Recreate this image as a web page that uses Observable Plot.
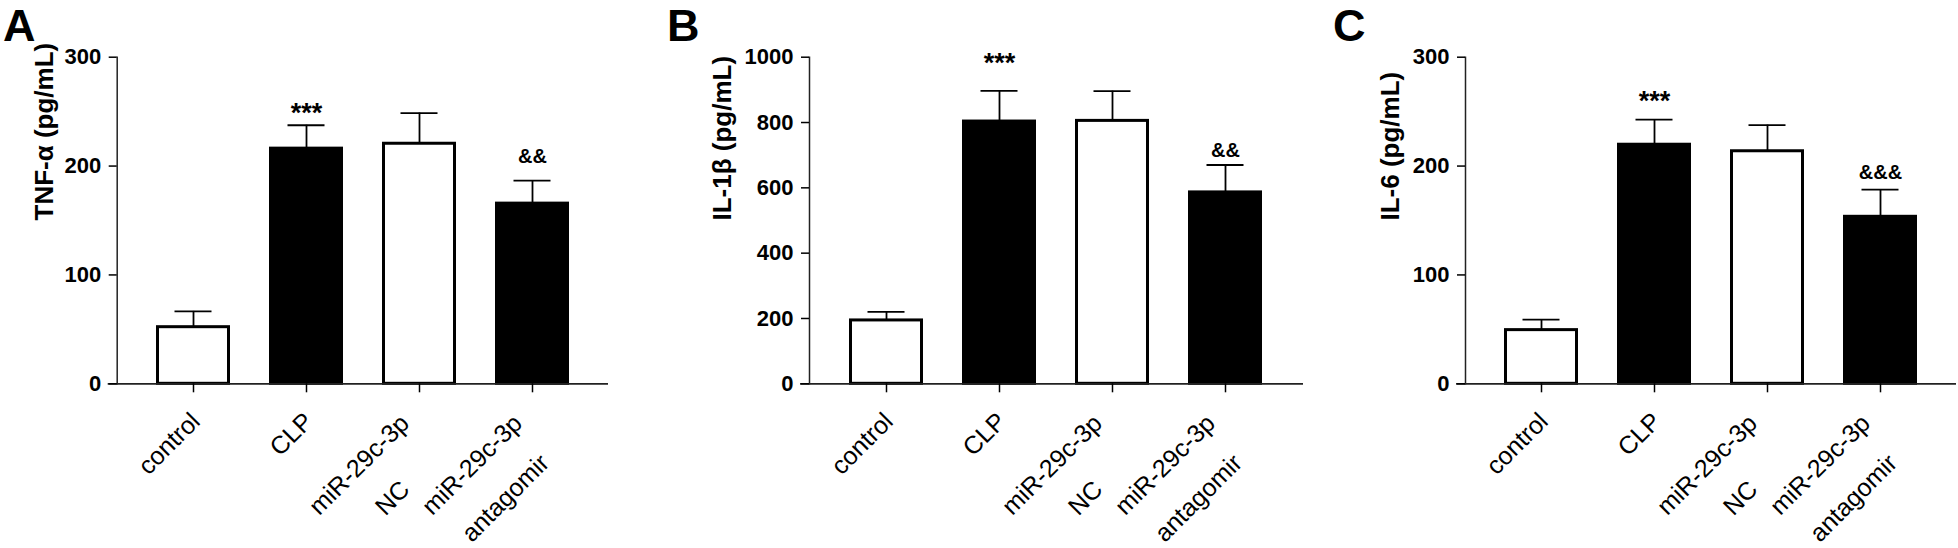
<!DOCTYPE html>
<html><head><meta charset="utf-8">
<script src="https://cdn.jsdelivr.net/npm/d3@7"></script>
<script src="https://cdn.jsdelivr.net/npm/@observablehq/plot@0.6"></script>
<style>
html,body{margin:0;padding:0;background:#fff;}
#root{position:relative;width:1958px;height:548px;overflow:hidden;font-family:"Liberation Sans",Arial,sans-serif;}
.panel{position:absolute;top:0;}
.letter{position:absolute;top:0px;font:bold 45px/52px "Liberation Sans",Arial,sans-serif;color:#000;}
</style></head><body><div id="root"></div>
<script>
// ---- data ----
const categories = ["control", "CLP", "miR-29c-3p\nNC", "miR-29c-3p\nantagomir"];

const tnfMean = [52, 216, 220.5, 165.5];
const tnfSem  = [14.5, 21.5, 28.2, 21.2];
const tnfSig  = ["", "***", "", "&&"];
const tnfSigY = [null, 253.5, null, 208.7];
const tnfTicks = [0, 100, 200, 300];

const il1bMean = [194, 803, 805, 586];
const il1bSem  = [26, 94, 91, 84];
const il1bSig  = ["", "***", "", "&&"];
const il1bSigY = [null, 1000, null, 714];
const il1bTicks = [0, 200, 400, 600, 800, 1000];

const il6Mean = [49.3, 219.6, 213.6, 153.4];
const il6Sem  = [9.6, 23.1, 24, 24.9];
const il6Sig  = ["", "***", "", "&&&"];
const il6SigY = [null, 265.4, null, 194.3];
const il6Ticks = [0, 100, 200, 300];

const panelLetters = ["A", "B", "C"];
const yLabels = ["TNF-α (pg/mL)", "IL-1β (pg/mL)", "IL-6 (pg/mL)"];

// ---- layout ----
const FONT = '"Liberation Sans", Arial, sans-serif';
const XFS = 25;
const canvas = document.createElement("canvas");
const ctx = canvas.getContext("2d");
function measure(t) { ctx.font = XFS + 'px "Liberation Sans"'; return ctx.measureText(t).width; }
const S = Math.SQRT1_2;

function panel(cfg) {
  const rows = categories.map((c, i) => ({
    cat: c, mean: cfg.mean[i], top: cfg.mean[i] + cfg.sem[i], sig: cfg.sig[i], sigY: cfg.sigY[i]
  }));
  const stars = rows.filter(r => r.sig && r.sig[0] === "*");
  const amps = rows.filter(r => r.sig && r.sig[0] === "&");
  const labelMarks = [];
  categories.forEach(c => {
    const lines = c.split("\n");
    const L = Math.max(...lines.map(measure));
    const E = lines.length === 1 ? [2.3, 33.5] : [-14.5, 35.5];
    lines.forEach((line, i) => {
      const cx = E[0] - (L / 2) * S + i * 47 * S;
      const cy = E[1] + (L / 2) * S + i * 47 * S;
      labelMarks.push(Plot.text([c], {
        x: d => d, frameAnchor: "bottom", text: () => line, rotate: -45,
        textAnchor: "middle", lineAnchor: "middle", dx: cx, dy: cy,
        fontSize: XFS, fill: "#000"
      }));
    });
  });
  return Plot.plot({
    width: cfg.width, height: 548,
    marginLeft: cfg.marginLeft, marginRight: cfg.marginRight,
    marginTop: 56.7, marginBottom: 164.7,
    style: {fontFamily: FONT, background: "transparent", overflow: "visible", color: "#000"},
    x: {domain: categories, padding: 0.344, axis: null},
    y: {domain: [0, cfg.yMax], axis: null},
    color: {domain: categories, range: ["white", "black", "white", "black"]},
    marks: [
      Plot.ruleX(rows, {x: "cat", y1: "mean", y2: "top", stroke: "#000", strokeWidth: 1.8}),
      Plot.tickY(rows, {x: "cat", y: "top", stroke: "#000", strokeWidth: 1.8, insetLeft: 18.5, insetRight: 18.5}),
      Plot.barY(rows, {x: "cat", y: "mean", fill: "cat", stroke: "#000", strokeWidth: 3, insetLeft: 1.5, insetRight: 1.5}),
      Plot.frame({anchor: "left", stroke: "#222", strokeWidth: 1.5}),
      Plot.ruleY([0], {stroke: "#222", strokeWidth: 1.8, insetLeft: -9}),
      Plot.axisY({ticks: cfg.ticks, tickSize: 8, tickPadding: 8, fontSize: 22, fontWeight: "bold",
        label: null, tickFormat: d => String(d), strokeWidth: 1.5}),
      Plot.axisX({tickSize: 9, tickFormat: () => "", label: null, strokeWidth: 1.5}),
      Plot.text([cfg.label], {frameAnchor: "left", rotate: -90, dx: cfg.labelDx, fontSize: 26,
        fontWeight: "bold", text: d => d, lineAnchor: "middle", fill: "#000"}),
      Plot.text(stars, {x: "cat", y: "sigY", text: "sig", fontSize: 27, fontWeight: "bold", dy: 6, fill: "#000"}),
      Plot.text(amps, {x: "cat", y: "sigY", text: "sig", fontSize: 20, fontWeight: "bold", fill: "#000"}),
      ...labelMarks
    ]
  });
}

const configs = [
  {left: 0, width: 640, marginLeft: 116.7, marginRight: 32, yMax: 300, ticks: tnfTicks,
   mean: tnfMean, sem: tnfSem, sig: tnfSig, sigY: tnfSigY, label: yLabels[0], labelDx: -73, letterLeft: 3},
  {left: 660, width: 660, marginLeft: 149, marginRight: 17, yMax: 1000, ticks: il1bTicks,
   mean: il1bMean, sem: il1bSem, sig: il1bSig, sigY: il1bSigY, label: yLabels[1], labelDx: -87, letterLeft: 667},
  {left: 1320, width: 638, marginLeft: 145, marginRight: 2, yMax: 300, ticks: il6Ticks,
   mean: il6Mean, sem: il6Sem, sig: il6Sig, sigY: il6SigY, label: yLabels[2], labelDx: -75, letterLeft: 1333}
];

const root = document.getElementById("root");
configs.forEach((cfg, k) => {
  const div = document.createElement("div");
  div.className = "panel";
  div.style.left = cfg.left + "px";
  div.appendChild(panel(cfg));
  root.appendChild(div);
  const letter = document.createElement("div");
  letter.className = "letter";
  letter.style.left = cfg.letterLeft + "px";
  letter.textContent = panelLetters[k];
  root.appendChild(letter);
});
</script>
</body></html>
